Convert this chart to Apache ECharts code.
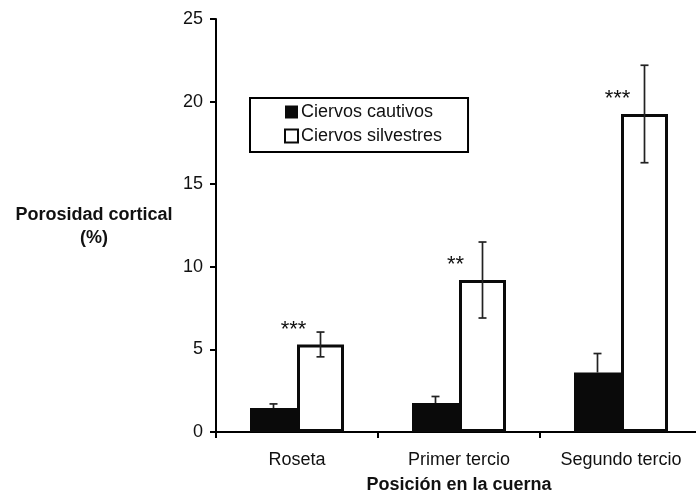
<!DOCTYPE html>
<html>
<head>
<meta charset="utf-8">
<script src="https://cdn.jsdelivr.net/npm/echarts@6/dist/echarts.min.js"></script>
<style>html,body{margin:0;padding:0;background:#fff;overflow:hidden}#c{width:702px;height:499px}</style>
</head>
<body>
<div id="c"></div>
<script>
const categories = ['Roseta', 'Primer tercio', 'Segundo tercio'];
const cautivos = [1.45, 1.75, 3.6];
const cautivosErr = [0.25, 0.4, 1.15];
const silvestres = [5.3, 9.2, 19.25];
const silvestresErr = [0.75, 2.3, 2.95];
const significance = ['***', '**', '***'];
const yTicks = [0, 5, 10, 15, 20, 25];

const FONT = '"Liberation Sans", Arial, sans-serif';
const BAR_W = 47;

const chart = echarts.init(document.getElementById('c'), null, {renderer: 'canvas'});

function errorBars(values, errs, side, withLower) {
  return {
    type: 'custom',
    z: 5,
    silent: true,
    data: values.map((v, i) => [i, v, errs[i]]),
    renderItem: function (params, api) {
      const i = api.value(0), v = api.value(1), e = api.value(2);
      const top = api.coord([i, v + e]);
      const low = api.coord([i, withLower ? v - e : v]);
      const x = top[0] + side * BAR_W / 2;
      const cap = 4;
      const st = {stroke: '#222', lineWidth: 1.7};
      const children = [
        {type: 'line', shape: {x1: x, y1: top[1], x2: x, y2: low[1]}, style: st},
        {type: 'line', shape: {x1: x - cap, y1: top[1], x2: x + cap, y2: top[1]}, style: st}
      ];
      if (withLower) children.push({type: 'line', shape: {x1: x - cap, y1: low[1], x2: x + cap, y2: low[1]}, style: st});
      return {type: 'group', children: children};
    }
  };
}

const option = {
  animation: false,
  backgroundColor: '#fff',
  textStyle: {fontFamily: FONT},
  grid: {left: 216, top: 19, width: 486, height: 414, containLabel: false},
  legend: {
    left: 250, top: 98,
    orient: 'vertical',
    align: 'left',
    padding: [5, 26, 7, 34],
    itemGap: 6,
    itemWidth: 13, itemHeight: 13,
    icon: 'rect',
    borderColor: '#000', borderWidth: 2,
    textStyle: {fontFamily: FONT, fontSize: 18, color: '#111', padding: [0, 0, 0, -2]},
    data: ['Ciervos cautivos', 'Ciervos silvestres']
  },
  xAxis: {
    type: 'category',
    data: categories,
    axisLine: {lineStyle: {color: '#000', width: 2}},
    axisTick: {show: true, length: 6, lineStyle: {color: '#000', width: 2}},
    axisLabel: {fontFamily: FONT, fontSize: 18, color: '#111', margin: 19},
    name: 'Posición en la cuerna',
    nameLocation: 'middle',
    nameGap: 44,
    nameTextStyle: {fontFamily: FONT, fontSize: 18, fontWeight: 'bold', color: '#111', verticalAlign: 'top'}
  },
  yAxis: {
    type: 'value',
    min: 0, max: 25, interval: 5,
    axisLine: {show: true, lineStyle: {color: '#000', width: 2}},
    axisTick: {show: true, length: 6, lineStyle: {color: '#000', width: 2}},
    axisLabel: {fontFamily: FONT, fontSize: 18, color: '#111', margin: 13,
      formatter: v => yTicks.includes(v) ? String(v) : ''},
    splitLine: {show: false}
  },
  graphic: [
    {type: 'text', x: 94, y: 215,
      style: {text: 'Porosidad cortical', font: 'bold 18px ' + FONT, fill: '#111', textAlign: 'center', textVerticalAlign: 'middle'}},
    {type: 'text', x: 94, y: 238,
      style: {text: '(%)', font: 'bold 18px ' + FONT, fill: '#111', textAlign: 'center', textVerticalAlign: 'middle'}}
  ],
  series: [
    {
      name: 'Ciervos cautivos', type: 'bar', data: cautivos,
      barWidth: BAR_W, barGap: '0%',
      itemStyle: {color: '#0a0a0a', borderColor: '#0a0a0a', borderWidth: 0}
    },
    {
      name: 'Ciervos silvestres', type: 'bar', data: silvestres,
      barWidth: BAR_W, barGap: '0%',
      itemStyle: {color: '#fff', borderColor: '#0a0a0a', borderWidth: 3},
      label: {
        show: true, position: 'top', distance: 4,
        offset: [-27, 0],
        formatter: p => significance[p.dataIndex],
        fontFamily: FONT, fontSize: 22, color: '#111'
      }
    },
    errorBars(cautivos, cautivosErr, -1, false),
    errorBars(silvestres, silvestresErr, 1, true)
  ]
};
chart.setOption(option);
</script>
</body>
</html>
